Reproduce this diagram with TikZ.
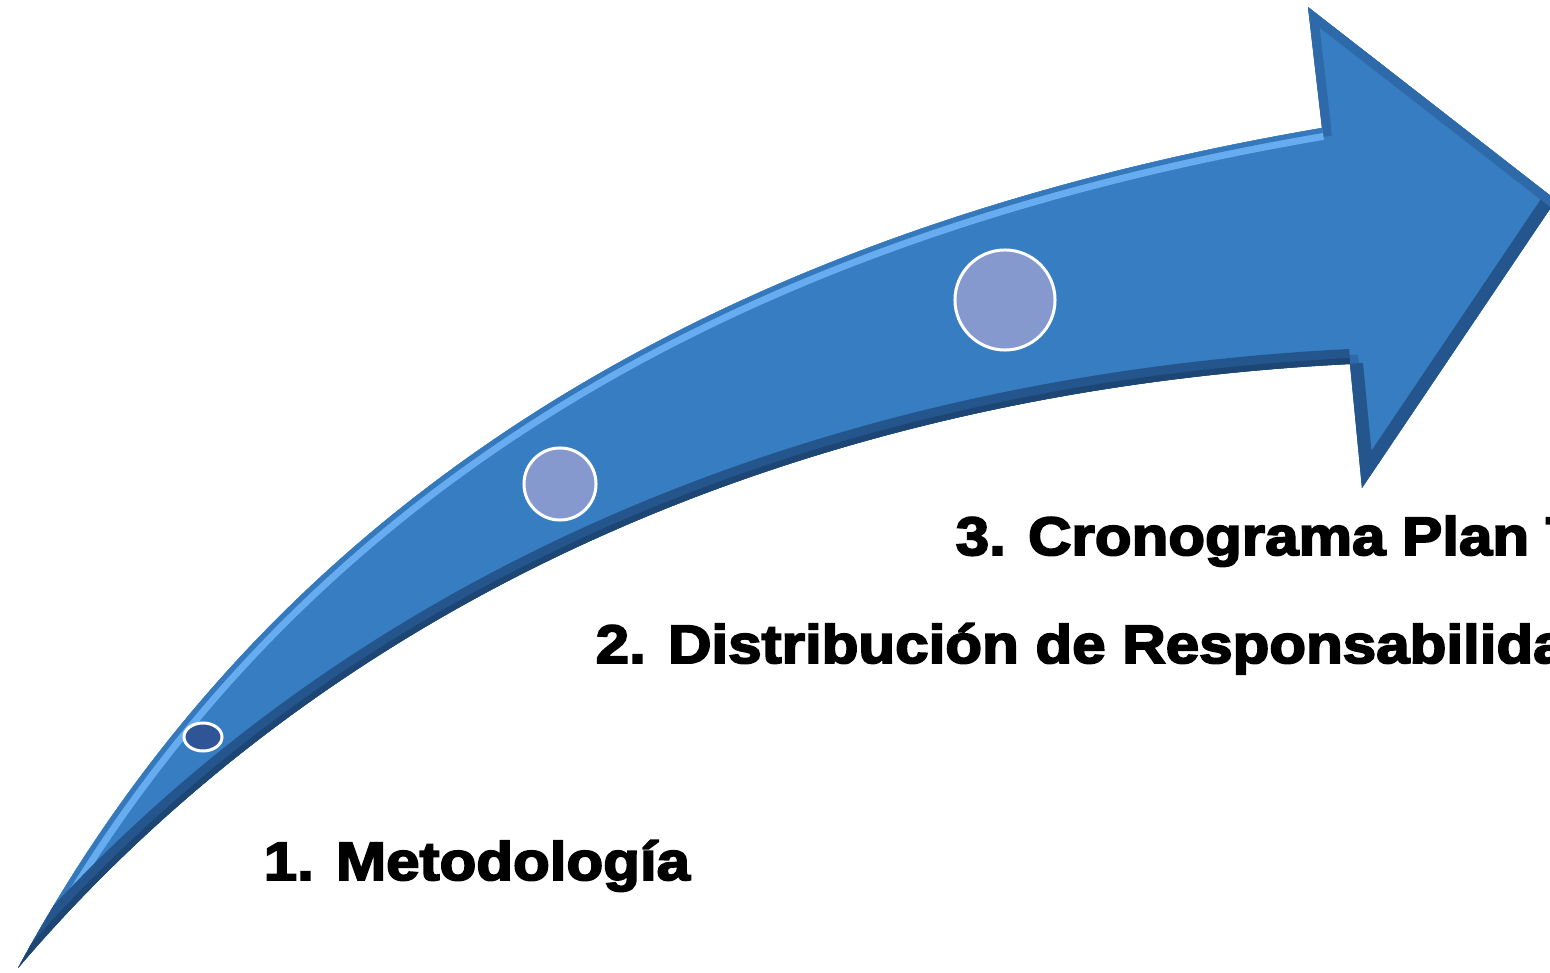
\documentclass[tikz,border=0pt]{standalone}
\usepackage{fontspec}
\usetikzlibrary{shapes.geometric}
\newfontfamily\stepfont[FakeBold=3.5,FakeStretch=1.11]{Liberation Sans}

\definecolor{arrowblue}{HTML}{377DC1}
\definecolor{arrowedge}{HTML}{2E6AAA}
\definecolor{arrowdark}{HTML}{24558C}
\definecolor{arrowdeep}{HTML}{1D4675}
\definecolor{arrowlight}{HTML}{66ACEE}
\definecolor{dotlight}{HTML}{8599CE}
\definecolor{dotdark}{HTML}{2F5597}

% edges of the curved arrow (pixel grid, y down)
\newcommand\upperedge{(18,968) .. controls (265,512) and (695,235) .. (1322,128)}
\newcommand\loweredge{(1350,364) .. controls (796,392) and (330,603) .. (18,968)}
\newcommand\arrowshape{(18,968) .. controls (265,512) and (695,235) .. (1322,128)
    -- (1308,7) -- (1556,200) -- (1362,488) -- (1350,364)
    .. controls (796,392) and (330,603) .. (18,968) -- cycle}

\begin{document}
\begin{tikzpicture}[x=0.01cm, y=-0.01cm,
    dot/.style={circle, draw=white, line width=0.03cm, fill=dotlight, inner sep=0pt},
    steptext/.style={anchor=base west, inner sep=0pt, font=\stepfont\bfseries\fontsize{15.4pt}{18pt}\selectfont}]

    \useasboundingbox (0,0) rectangle (1550,973);
    \clip (0,0) rectangle (1550,973);

    % arrow body
    \fill[arrowblue] \arrowshape;
    \begin{scope}
        \clip \arrowshape;
        \draw[arrowedge, line width=0.18cm] \arrowshape;
        \draw[arrowlight, line width=0.24cm] \upperedge; % highlight
        \draw[arrowblue!80!arrowedge, line width=0.1cm] \upperedge;
        \draw[arrowdark, line width=0.3cm] \loweredge; % shadow
        \draw[arrowdeep, line width=0.12cm] \loweredge;
        \draw[arrowdark, line width=0.26cm] (1556,200) -- (1362,488) -- (1350,364);
        \draw[arrowedge, line width=0.18cm] (1322,128) -- (1308,7) -- (1556,200);
    \end{scope}

    % nodes (steps)
    \node[dot, ellipse, fill=dotdark, minimum width=0.38cm, minimum height=0.28cm] (m1) at (203,737) {};
    \node[dot, minimum size=0.72cm] (m2) at (560,484) {};
    \node[dot, minimum size=1.0cm] (m3) at (1005,300) {};

    % labels
    \node[steptext] (t1) at (263,880) {1. Metodología};
    \node[steptext] (t2) at (595,663) {2. Distribución de Responsabilidad};
    \node[steptext] (t3) at (955,555) {3. Cronograma Plan T};

\end{tikzpicture}
\end{document}
